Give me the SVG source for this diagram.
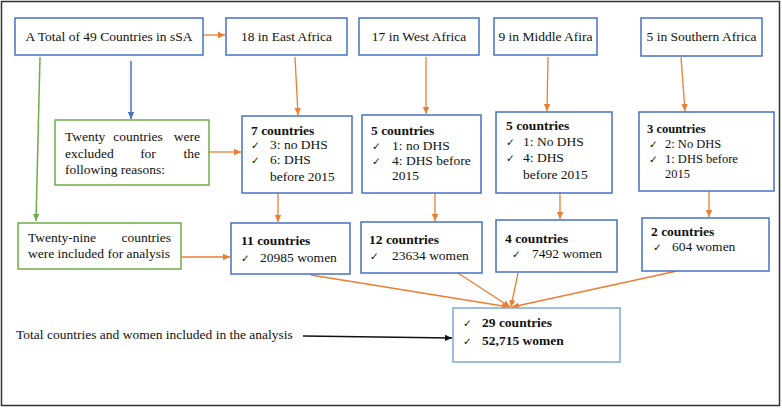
<svg xmlns="http://www.w3.org/2000/svg" width="782" height="408" viewBox="0 0 782 408">
<style>
text{font-family:"Liberation Serif","Times New Roman",serif;font-size:13.5px;fill:#111}
.b{font-weight:bold}
.ck{font-family:"DejaVu Sans",sans-serif;font-size:10.5px}
.bx{fill:#fff;stroke:#4472C4;stroke-width:1.5}
.gx{fill:#fff;stroke:#70AD47;stroke-width:1.5}
.o{stroke:#ED7D31;stroke-width:1.3;fill:none}
</style>
<defs>
<marker id="ao" markerUnits="userSpaceOnUse" markerWidth="8" markerHeight="8" refX="7" refY="4" orient="auto"><path d="M0,0.8 L7,4 L0,7.2 Z" fill="#ED7D31"/></marker>
<marker id="ab" markerUnits="userSpaceOnUse" markerWidth="8" markerHeight="8" refX="7" refY="4" orient="auto"><path d="M0,0.8 L7,4 L0,7.2 Z" fill="#4472C4"/></marker>
<marker id="ag" markerUnits="userSpaceOnUse" markerWidth="8" markerHeight="8" refX="7" refY="4" orient="auto"><path d="M0,0.8 L7,4 L0,7.2 Z" fill="#70AD47"/></marker>
<marker id="ak" markerUnits="userSpaceOnUse" markerWidth="8" markerHeight="8" refX="7" refY="4" orient="auto"><path d="M0,0.8 L7,4 L0,7.2 Z" fill="#111"/></marker>
</defs>
<rect x="1.5" y="1.5" width="778" height="404" fill="#fff" stroke="#333" stroke-width="1.5"/>

<g id="connectors">
<line class="o" x1="203" y1="35" x2="225" y2="35" marker-end="url(#ao)"/>
<line x1="40" y1="57" x2="36" y2="221" stroke="#70AD47" stroke-width="1.5" marker-end="url(#ag)"/>
<line x1="131" y1="61" x2="131" y2="119" stroke="#4472C4" stroke-width="1.5" marker-end="url(#ab)"/>
<line class="o" x1="295" y1="57" x2="298" y2="115" marker-end="url(#ao)"/>
<line class="o" x1="426" y1="57" x2="426" y2="114" marker-end="url(#ao)"/>
<line class="o" x1="548" y1="57" x2="547" y2="111" marker-end="url(#ao)"/>
<line class="o" x1="681" y1="57" x2="685" y2="111" marker-end="url(#ao)"/>
<line class="o" x1="209" y1="152" x2="241" y2="152" marker-end="url(#ao)"/>
<line class="o" x1="278" y1="193" x2="278" y2="222" marker-end="url(#ao)"/>
<line class="o" x1="435" y1="193" x2="435" y2="221" marker-end="url(#ao)"/>
<line class="o" x1="560" y1="193" x2="560" y2="219" marker-end="url(#ao)"/>
<line class="o" x1="709" y1="191" x2="709" y2="217" marker-end="url(#ao)"/>
<line class="o" x1="181" y1="257" x2="230" y2="257" marker-end="url(#ao)"/>
<line class="o" x1="311" y1="275" x2="509" y2="307" marker-end="url(#ao)"/>
<line class="o" x1="458" y1="273" x2="510" y2="307" marker-end="url(#ao)"/>
<line class="o" x1="518" y1="273" x2="511" y2="307" marker-end="url(#ao)"/>
<line class="o" x1="677" y1="271" x2="512" y2="307" marker-end="url(#ao)"/>
<line x1="303" y1="336" x2="452" y2="338" stroke="#111" stroke-width="1.6" marker-end="url(#ak)"/>
</g>

<g id="total">
<rect class="bx" x="15" y="18" width="188" height="37"/>
<text x="109" y="41" text-anchor="middle">A Total of 49 Countries in sSA</text>
</g>
<g id="east">
<rect class="bx" x="226" y="18" width="121" height="37"/>
<text x="286.5" y="41" text-anchor="middle">18 in East Africa</text>
</g>
<g id="west">
<rect class="bx" x="359" y="18" width="120" height="37"/>
<text x="419" y="41" text-anchor="middle">17 in West Africa</text>
</g>
<g id="middle">
<rect class="bx" x="494" y="18" width="103" height="37"/>
<text x="545.5" y="41" text-anchor="middle">9 in Middle Afira</text>
</g>
<g id="southern">
<rect class="bx" x="641" y="18" width="121" height="38"/>
<text x="701.5" y="41" text-anchor="middle">5 in Southern Africa</text>
</g>

<g id="excluded">
<rect class="gx" x="55" y="120" width="154" height="65"/>
<text x="65" y="141">Twenty</text>
<text x="138" y="141" text-anchor="middle">countries</text>
<text x="200" y="141" text-anchor="end">were</text>
<text x="65" y="158">excluded</text>
<text x="148" y="158" text-anchor="middle">for</text>
<text x="200" y="158" text-anchor="end">the</text>
<text x="65" y="174">following reasons:</text>
</g>

<g id="east-excl">
<rect class="bx" x="242" y="116" width="110" height="77"/>
<text class="b" x="251" y="135">7 countries</text>
<text class="ck" x="251" y="149">✓</text><text x="270" y="149">3: no DHS</text>
<text class="ck" x="251" y="164">✓</text><text x="270" y="164">6: DHS</text>
<text x="270" y="181">before 2015</text>
</g>
<g id="west-excl">
<rect class="bx" x="362" y="115" width="119" height="78"/>
<text class="b" x="371" y="135">5 countries</text>
<text class="ck" x="372" y="150">✓</text><text x="392" y="150">1: no DHS</text>
<text class="ck" x="372" y="165">✓</text><text x="392" y="165">4:  DHS  before</text>
<text x="392" y="180">2015</text>
</g>
<g id="middle-excl">
<rect class="bx" x="496" y="112" width="116" height="81"/>
<text class="b" x="506" y="130">5 countries</text>
<text class="ck" x="506" y="146">✓</text><text x="523" y="146">1: No DHS</text>
<text class="ck" x="506" y="162">✓</text><text x="523" y="162">4: DHS</text>
<text x="523" y="179">before 2015</text>
</g>
<g id="southern-excl">
<rect class="bx" x="639" y="112" width="135" height="79"/>
<text class="b" x="647" y="133" style="font-size:12.5px">3 countries</text>
<text class="ck" x="649" y="148">✓</text><text x="665" y="148" style="font-size:12.5px">2: No DHS</text>
<text class="ck" x="649" y="163">✓</text><text x="665" y="163" style="font-size:12.5px">1: DHS before</text>
<text x="665" y="178" style="font-size:12.5px">2015</text>
</g>

<g id="included">
<rect class="gx" x="18" y="223" width="163" height="46"/>
<text x="28" y="242">Twenty-nine</text>
<text x="171" y="242" text-anchor="end">countries</text>
<text x="28" y="258">were included for analysis</text>
</g>

<g id="east-incl">
<rect class="bx" x="231" y="223" width="119" height="51"/>
<text class="b" x="241" y="245">11 countries</text>
<text class="ck" x="241" y="262">✓</text><text x="260" y="262">20985 women</text>
</g>
<g id="west-incl">
<rect class="bx" x="361" y="222" width="121" height="51"/>
<text class="b" x="369" y="244">12 countries</text>
<text class="ck" x="370" y="260">✓</text><text x="392" y="260">23634 women</text>
</g>
<g id="middle-incl">
<rect class="bx" x="496" y="220" width="121" height="52"/>
<text class="b" x="505" y="243">4 countries</text>
<text class="ck" x="512" y="258">✓</text><text x="532" y="258">7492 women</text>
</g>
<g id="southern-incl">
<rect class="bx" x="642" y="218" width="127" height="53"/>
<text class="b" x="651" y="236">2 countries</text>
<text class="ck" x="653" y="251">✓</text><text x="672" y="251">604 women</text>
</g>

<g id="final">
<rect x="453" y="308" width="167" height="54" fill="#fff" stroke="#7FA7D9" stroke-width="1.5"/>
<text class="ck" x="463" y="327">✓</text><text class="b" x="482" y="327">29 countries</text>
<text class="ck" x="463" y="345">✓</text><text class="b" x="482" y="345">52,715 women</text>
</g>

<g id="label">
<text x="16" y="339">Total countries and women included in the analysis</text>
</g>
</svg>
